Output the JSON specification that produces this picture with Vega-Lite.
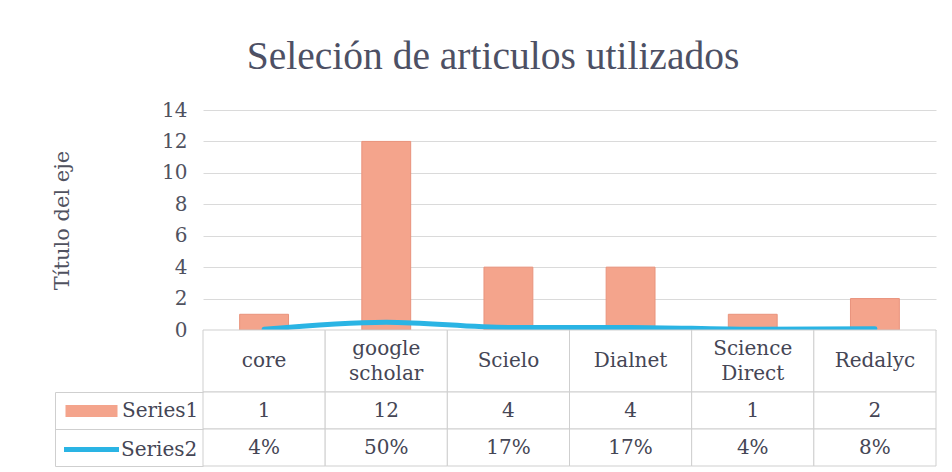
{
  "$schema": "https://vega.github.io/schema/vega-lite/v6.json",
  "background": "white",
  "padding": {"left": 51, "top": 36, "right": 15, "bottom": 5},
  "autosize": {"type": "pad"},
  "config": {"view": {"stroke": null}, "font": "DejaVu Serif"},
  "title": {"text": "Seleción de articulos utilizados", "font": "Liberation Serif", "fontSize": 39.5, "fontWeight": "normal", "color": "#4d5064", "anchor": "middle", "dx": -1, "offset": 23},
  "datasets": {
    "t": [
      {"source": "core", "label": "core", "series1": 1, "series2": 0.0417},
      {"source": "google scholar", "label": "google\nscholar", "series1": 12, "series2": 0.5},
      {"source": "Scielo", "label": "Scielo", "series1": 4, "series2": 0.1667},
      {"source": "Dialnet", "label": "Dialnet", "series1": 4, "series2": 0.1667},
      {"source": "Science Direct", "label": "Science\nDirect", "series1": 1, "series2": 0.0417},
      {"source": "Redalyc", "label": "Redalyc", "series1": 2, "series2": 0.0833}
    ]
  },
  "data": {"name": "t"},
  "spacing": 0,
  "bounds": "flush",
  "vconcat": [
    {
      "width": 733,
      "height": 220,
      "layer": [
        {
          "mark": {"type": "bar", "stroke": "#e9937c", "strokeWidth": 1},
          "encoding": {
            "x": {"field": "source", "type": "nominal", "sort": null, "axis": null, "scale": {"paddingInner": 0.6, "paddingOuter": 0.3}},
            "y": {
              "field": "series1", "type": "quantitative",
              "scale": {"domain": [0, 14], "nice": false},
              "axis": {
                "title": "Título del eje", "values": [0, 2, 4, 6, 8, 10, 12, 14], "labelOverlap": false,
                "domain": false, "ticks": false, "tickSize": 0, "labelPadding": 16,
                "labelFont": "DejaVu Serif", "labelFontSize": 20, "labelColor": "#50525f",
                "titleFont": "DejaVu Serif", "titleFontSize": 21, "titleFontWeight": "normal", "titleColor": "#50525f",
                "titlePadding": 89, "gridColor": "#dadada", "gridWidth": 1
              }
            },
            "fill": {
              "datum": "Series1", "type": "nominal",
              "scale": {"domain": ["Series1"], "range": ["#f4a48c"]},
              "legend": {
                "title": null, "orient": "none", "legendX": -121.5, "legendY": 291,
                "symbolType": "M-2.6,-0.6H2.6V0.6H-2.6Z", "symbolSize": 400, "symbolStrokeWidth": 0,
                "labelFont": "DejaVu Serif", "labelFontSize": 20, "labelColor": "#454655",
                "labelOffset": 20.5, "padding": 0
              }
            }
          }
        },
        {
          "mark": {"type": "line", "strokeWidth": 5, "interpolate": "monotone", "strokeCap": "round"},
          "encoding": {
            "x": {"field": "source", "type": "nominal", "sort": null},
            "y": {
              "field": "series2", "type": "quantitative",
              "axis": {
                "title": "Título del eje", "values": [0, 2, 4, 6, 8, 10, 12, 14], "labelOverlap": false,
                "domain": false, "ticks": false, "tickSize": 0, "labelPadding": 16,
                "labelFont": "DejaVu Serif", "labelFontSize": 20, "labelColor": "#50525f",
                "titleFont": "DejaVu Serif", "titleFontSize": 21, "titleFontWeight": "normal", "titleColor": "#50525f",
                "titlePadding": 89, "gridColor": "#dadada", "gridWidth": 1
              }
            },
            "stroke": {
              "datum": "Series2", "type": "nominal",
              "scale": {"domain": ["Series2"], "range": ["#2ab4e4"]},
              "legend": {
                "title": null, "orient": "none", "legendX": -124, "legendY": 327,
                "symbolType": "M-2.75,0H2.75", "symbolSize": 400, "symbolStrokeWidth": 5, "symbolFillColor": "transparent",
                "labelFont": "DejaVu Serif", "labelFontSize": 20, "labelColor": "#454655",
                "labelOffset": 17, "padding": 0
              }
            }
          }
        }
      ]
    },
    {
      "width": 733,
      "height": 62,
      "encoding": {
        "x": {"field": "source", "type": "nominal", "sort": null, "axis": null, "scale": {"paddingInner": 0, "paddingOuter": 0}}
      },
      "layer": [
        {"mark": {"type": "rect", "fill": "white", "stroke": "#cfcfcf", "strokeWidth": 1}},
        {
          "transform": [{"filter": "indexof(datum.label, '\\n') < 0"}],
          "mark": {"type": "text", "font": "DejaVu Serif", "fontSize": 20, "color": "#454655", "baseline": "middle"},
          "encoding": {"text": {"field": "label"}}
        },
        {
          "transform": [{"filter": "indexof(datum.label, '\\n') >= 0"}],
          "mark": {"type": "text", "lineBreak": "\n", "font": "DejaVu Serif", "fontSize": 20, "lineHeight": 25, "dy": -12.5, "color": "#454655", "baseline": "middle"},
          "encoding": {"text": {"field": "label"}}
        }
      ]
    },
    {
      "width": 733,
      "height": 74,
      "encoding": {
        "x": {"field": "source", "type": "nominal", "sort": null, "axis": null, "scale": {"paddingInner": 0, "paddingOuter": 0}}
      },
      "layer": [
        {
          "mark": {"type": "rect", "fill": "white", "stroke": "#cfcfcf", "strokeWidth": 1},
          "encoding": {
            "y": {
              "datum": "Series1", "type": "nominal",
              "scale": {"domain": ["Series1", "Series2"], "paddingInner": 0, "paddingOuter": 0},
              "axis": {"title": null, "labels": false, "domain": true, "domainColor": "#cfcfcf", "offset": 148, "ticks": true, "tickSize": -148, "tickBand": "extent", "tickColor": "#cfcfcf", "grid": false}
            }
          }
        },
        {
          "mark": {"type": "rect", "fill": "white", "stroke": "#cfcfcf", "strokeWidth": 1},
          "encoding": {"y": {"datum": "Series2", "type": "nominal"}}
        },
        {
          "mark": {"type": "text", "font": "DejaVu Serif", "fontSize": 20, "color": "#454655", "baseline": "middle"},
          "encoding": {"y": {"datum": "Series1", "type": "nominal"}, "text": {"field": "series1", "type": "quantitative"}}
        },
        {
          "mark": {"type": "text", "font": "DejaVu Serif", "fontSize": 20, "color": "#454655", "baseline": "middle"},
          "encoding": {"y": {"datum": "Series2", "type": "nominal"}, "text": {"field": "series2", "type": "quantitative", "format": ".0%"}}
        }
      ]
    }
  ]
}
